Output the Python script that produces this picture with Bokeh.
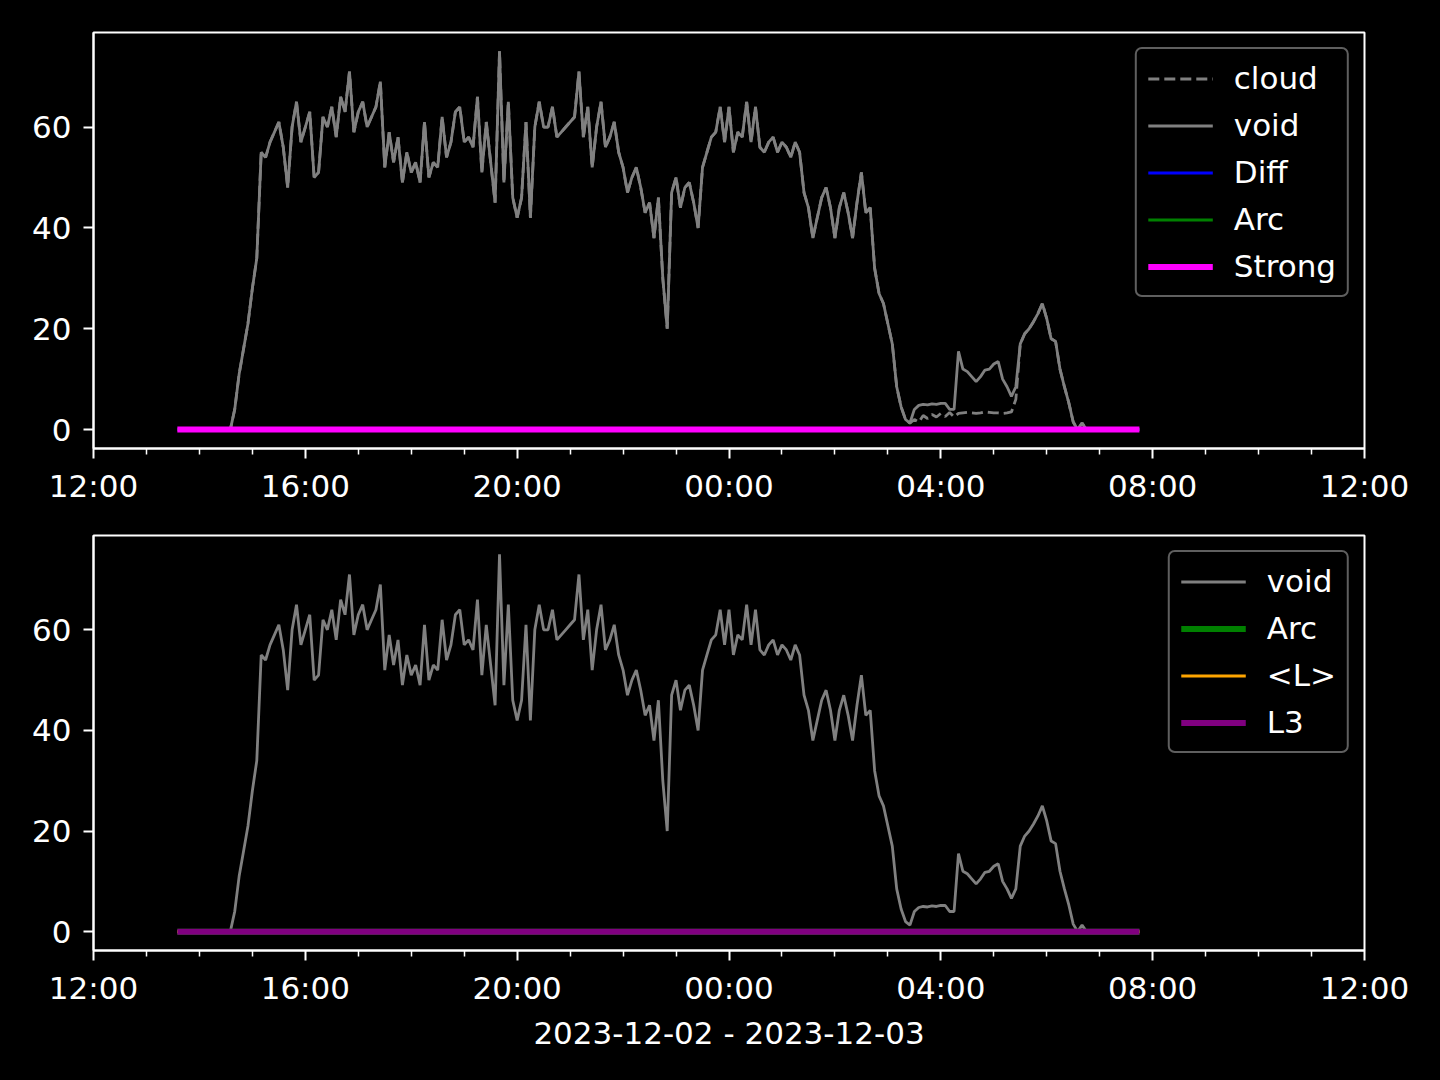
import pandas as pd
from bokeh.plotting import figure
from bokeh.models import (Range1d, FixedTicker, DatetimeTickFormatter, Legend,
                          LegendItem, ColumnDataSource)
from bokeh.layouts import column
from bokeh.embed import file_html
from bokeh.resources import INLINE

# ---------------- data ----------------
series_start = "2023-12-02 13:35"
series_step = "5min"

# void intensity, one value per 5 minutes, 13:35 (Dec 2) .. 07:45 (Dec 3)
void = [
    0, 0, 0, 0, 0, 0, 0, 0, 0, 0, 0, 0,                       # 13:35-14:30
    0, 4, 11, 16, 21, 28, 34, 55, 54, 57, 59, 61,              # 14:35-15:30
    56, 48, 60, 65, 57, 60, 63, 50, 51, 62, 60, 64,            # 15:35-16:30
    58, 66, 63, 71, 59, 63, 65, 60, 62, 64, 69, 52,            # 16:35-17:30
    59, 53, 58, 49, 55, 51, 53, 49, 61, 50, 53, 52,            # 17:35-18:30
    62, 54, 57, 63, 64, 57, 58, 56, 66, 51, 61, 53,            # 18:35-19:30
    45, 75, 49, 65, 46, 42, 46, 61, 42, 60, 65, 60,            # 19:35-20:30
    60, 64, 58, 59, 60, 61, 62, 71, 58, 64, 52, 60,            # 20:35-21:30
    65, 56, 58, 61, 55, 52, 47, 50, 52, 48, 43, 45,            # 21:35-22:30
    38, 46, 30, 20, 47, 50, 44, 48, 49, 45, 40, 52,            # 22:35-23:30
    55, 58, 59, 64, 57, 64, 55, 59, 58, 65, 57, 64,            # 23:35-00:30
    56, 55, 57, 58, 55, 57, 56, 54, 57, 55, 47, 44,            # 00:35-01:30
    38, 42, 46, 48, 44, 38, 44, 47, 43, 38, 45, 51,            # 01:35-02:30
    43, 44, 32, 27, 25, 21, 17, 8.5, 4.5, 2, 1.3, 4,           # 02:35-03:30
    4.8, 5, 4.9, 5.1, 5, 5.2, 5.2, 4, 4, 15.5, 12, 11.5,       # 03:35-04:30
    10.5, 9.5, 10.5, 11.8, 12, 13, 13.5, 10, 8.5, 6.6, 8.5, 17,  # 04:35-05:30
    19, 20, 21.4, 23, 25, 22, 18, 17.5, 12, 8.5, 5.3, 1.5,     # 05:35-06:30
    0, 1.3, 0, 0, 0, 0, 0, 0, 0, 0, 0, 0,                      # 06:35-07:30
    0, 0, 0,                                                   # 07:35-07:45
]

# cloud follows void except where it separates (03:30 .. 05:25)
cloud_gap_start = "2023-12-03 03:30"
cloud_gap = [2, 1.5, 2.8, 2.2, 3, 2.5, 3.2, 2.6, 3.4, 2.5, 3.2, 3.3,
             3.4, 3.3, 3.2, 3.3, 3.5, 3.4, 3.3, 3.3, 3.2, 3.3, 3.5, 6]

# Diff, Arc, Strong, <L>, L3 are flat at zero over the whole period
zero_level = 0.0

x_start = "2023-12-02 12:00"
x_end = "2023-12-03 12:00"
major_tick_hours = [0, 4, 8, 12, 16, 20, 24]
minor_tick_hours = [1, 2, 3, 5, 6, 7, 9, 10, 11, 13, 14, 15, 17, 18, 19, 21, 22, 23]
y_ticks = [0, 20, 40, 60]
y_min, y_max = -3.75, 78.75
x_title = "2023-12-02 - 2023-12-03"

# ---------------- build sources ----------------
times = pd.date_range(series_start, periods=len(void), freq=series_step)
gi = int(times.get_loc(pd.Timestamp(cloud_gap_start)))
cloud = list(void[:gi]) + list(cloud_gap) + list(void[gi + len(cloud_gap):])
zeros = [zero_level] * len(void)

src = ColumnDataSource(dict(t=times, void=void, cloud=cloud, zero=zeros))

t0 = pd.Timestamp(x_start)
def ms(h):
    return (t0 + pd.Timedelta(hours=h)).value // 10**6

FONT = "DejaVu Sans"
FS = "31px"

def make_fig(height, top, bottom):
    p = figure(width=1432, height=height, output_backend="svg", toolbar_location=None,
               x_axis_type="datetime",
               x_range=Range1d(pd.Timestamp(x_start), pd.Timestamp(x_end)),
               y_range=Range1d(y_min, y_max),
               min_border_left=93, min_border_right=68,
               min_border_top=top, min_border_bottom=bottom)
    p.background_fill_color = "black"
    p.border_fill_color = "black"
    p.outline_line_color = "white"
    p.outline_line_width = 2
    p.grid.visible = False
    p.xaxis.ticker = FixedTicker(ticks=[ms(h) for h in major_tick_hours],
                                 minor_ticks=[ms(h) for h in minor_tick_hours])
    fmt = "%H:%M"
    p.xaxis.formatter = DatetimeTickFormatter(
        microseconds=fmt, milliseconds=fmt, seconds=fmt, minsec=fmt, minutes=fmt,
        hourmin=fmt, hours=fmt, days=fmt, months=fmt, years=fmt)
    p.yaxis.ticker = FixedTicker(ticks=y_ticks, minor_ticks=[])
    for ax in (p.xaxis[0], p.yaxis[0]):
        ax.axis_line_color = "white"
        ax.axis_line_width = 2
        ax.major_tick_line_color = "white"
        ax.major_tick_line_width = 2
        ax.minor_tick_line_color = "white"
        ax.minor_tick_line_width = 1.5
        ax.major_tick_in = 0
        ax.major_tick_out = 10
        ax.minor_tick_in = 0
        ax.minor_tick_out = 6
        ax.major_label_text_color = "white"
        ax.major_label_text_font = FONT
        ax.major_label_text_font_size = FS
        ax.major_label_standoff = 9
    p.yaxis.major_label_standoff = 12
    return p

def style_legend(items):
    lg = Legend(items=items, location="top_right")
    lg.label_text_color = "white"
    lg.label_text_font = FONT
    lg.label_text_font_size = FS
    lg.background_fill_color = "black"
    lg.background_fill_alpha = 1.0
    lg.border_line_color = "#bdbdbd"
    lg.border_line_width = 2.5
    if "border_radius" in Legend.properties():
        lg.border_radius = 7
    lg.padding = 11
    lg.spacing = 11
    lg.margin = 15
    lg.glyph_width = 65
    lg.glyph_height = 35
    lg.label_height = 35
    lg.label_standoff = 21
    return lg

# ---------------- top panel ----------------
p1 = make_fig(508, 32, 60)
r_cloud = p1.line("t", "cloud", source=src, line_color="gray", line_width=2.8, line_dash="11 5")
r_void1 = p1.line("t", "void", source=src, line_color="gray", line_width=2.8)
r_diff = p1.line("t", "zero", source=src, line_color="blue", line_width=3)
r_arc1 = p1.line("t", "zero", source=src, line_color="green", line_width=3)
r_strong = p1.line("t", "zero", source=src, line_color="magenta", line_width=6)
p1.add_layout(style_legend([
    LegendItem(label="cloud", renderers=[r_cloud]),
    LegendItem(label="void", renderers=[r_void1]),
    LegendItem(label="Diff", renderers=[r_diff]),
    LegendItem(label="Arc", renderers=[r_arc1]),
    LegendItem(label="Strong", renderers=[r_strong]),
]))

# ---------------- bottom panel ----------------
p2 = make_fig(552, 27, 110)
r_void2 = p2.line("t", "void", source=src, line_color="gray", line_width=2.8)
r_arc2 = p2.line("t", "zero", source=src, line_color="green", line_width=6)
r_L = p2.line("t", "zero", source=src, line_color="orange", line_width=3)
r_L3 = p2.line("t", "zero", source=src, line_color="purple", line_width=6)
p2.add_layout(style_legend([
    LegendItem(label="void", renderers=[r_void2]),
    LegendItem(label="Arc", renderers=[r_arc2]),
    LegendItem(label="<L>", renderers=[r_L]),
    LegendItem(label="L3", renderers=[r_L3]),
]))
p2.xaxis.axis_label = x_title
p2.xaxis.axis_label_text_color = "white"
p2.xaxis.axis_label_text_font = FONT
p2.xaxis.axis_label_text_font_size = FS
p2.xaxis.axis_label_text_font_style = "normal"
p2.xaxis.axis_label_standoff = 6

layout = column(p1, p2, spacing=0)
layout.styles = {"background-color": "black"}

html = file_html(layout, INLINE, title="chart")
html = html.replace("</head>", "<style>html,body{background:#000;}</style></head>", 1)
open("out.html", "w").write(html)
